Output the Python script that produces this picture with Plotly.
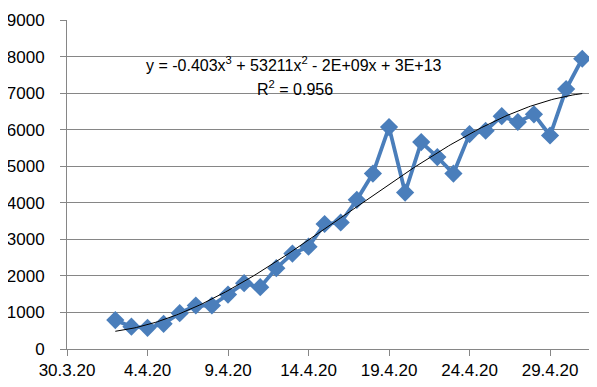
import numpy as np
import pandas as pd
import plotly.graph_objects as go

dates = ["2020-04-02", "2020-04-03", "2020-04-04", "2020-04-05", "2020-04-06", "2020-04-07",
         "2020-04-08", "2020-04-09", "2020-04-10", "2020-04-11", "2020-04-12", "2020-04-13",
         "2020-04-14", "2020-04-15", "2020-04-16", "2020-04-17", "2020-04-18", "2020-04-19",
         "2020-04-20", "2020-04-21", "2020-04-22", "2020-04-23", "2020-04-24", "2020-04-25",
         "2020-04-26", "2020-04-27", "2020-04-28", "2020-04-29", "2020-04-30", "2020-05-01"]
values = [790, 610, 580, 690, 980, 1190, 1190, 1490, 1800, 1690, 2210, 2610,
          2800, 3420, 3460, 4080, 4800, 6070, 4280, 5660, 5250, 4800, 5880, 5970,
          6370, 6210, 6420, 5840, 7110, 7940]
tick_dates = ["2020-03-30", "2020-04-04", "2020-04-09", "2020-04-14", "2020-04-19",
              "2020-04-24", "2020-04-29"]
tick_labels = ["30.3.20", "4.4.20", "9.4.20", "14.4.20", "19.4.20", "24.4.20", "29.4.20"]
equation = "y = -0.403x<sup>3</sup> + 53211x<sup>2</sup> - 2E+09x + 3E+13"
r2_text = "R<sup>2</sup> = 0.956"

x = pd.to_datetime(dates)
days = np.array([(d - x[0]).days for d in x], dtype=float)
coef = np.polyfit(days, values, 3)
fine = np.linspace(days.min(), days.max(), 200)
trend_x = [x[0] + pd.Timedelta(days=float(d)) for d in fine]
trend_y = np.polyval(coef, fine)

fig = go.Figure()
fig.add_trace(go.Scatter(x=x, y=values, mode="lines+markers",
                         line=dict(color="#4A7EBB", width=3.8),
                         marker=dict(symbol="diamond", size=14, color="#4A7EBB"),
                         showlegend=False))
fig.add_trace(go.Scatter(x=trend_x, y=trend_y, mode="lines",
                         line=dict(color="#000000", width=1), showlegend=False))

fig.add_annotation(x=0.428, y=7800, xref="paper", yref="y", text=equation, showarrow=False,
                   font=dict(family="Liberation Sans", size=16, color="#000000"))
fig.add_annotation(x=0.430, y=7140, xref="paper", yref="y", text=r2_text, showarrow=False,
                   font=dict(family="Liberation Sans", size=16, color="#000000"))

tick_font = dict(family="Liberation Sans", size=17, color="#000000")
fig.update_layout(
    width=589, height=379,
    margin=dict(l=59, r=0, t=12, b=38),
    paper_bgcolor="white", plot_bgcolor="white",
    font=dict(family="Liberation Sans", size=17, color="#000000"),
    xaxis=dict(type="date", range=["2020-03-30", "2020-05-01 22:00"],
               tickvals=tick_dates, ticktext=tick_labels, tickfont=tick_font,
               showgrid=False, showline=True, linecolor="#868686", linewidth=1,
               ticks="outside", ticklen=6, tickcolor="#868686", zeroline=False),
    yaxis=dict(range=[0, 9000], dtick=1000, tickfont=tick_font,
               showgrid=True, gridcolor="#868686", gridwidth=1,
               showline=True, linecolor="#868686", linewidth=1,
               ticks="outside", ticklen=6, tickcolor="#868686", zeroline=False,
               ticklabelstandoff=12),
)
fig.write_html("out.html")
